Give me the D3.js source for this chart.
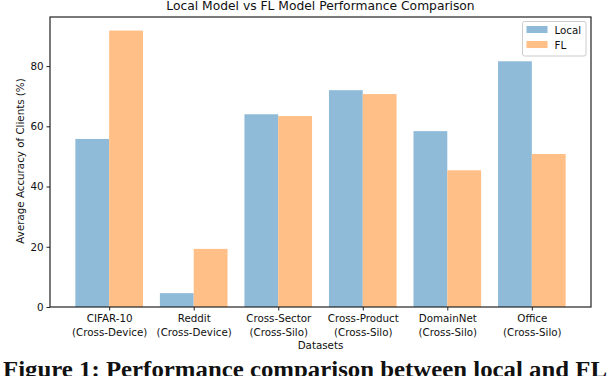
<!DOCTYPE html>
<html lang="en">
<head>
<meta charset="UTF-8">
<title>Local Model vs FL Model Performance Comparison</title>
<script src="https://d3js.org/d3.v7.min.js"></script>
<style>
  body { margin: 0; background: #fff; }
  svg text { font-family: "DejaVu Sans", sans-serif; fill: #111; }
</style>
</head>
<body>
<div id="chart"></div>
<script>
// data
var datasets = ["CIFAR-10", "Reddit", "Cross-Sector", "Cross-Product", "DomainNet", "Office"];
var settings = ["(Cross-Device)", "(Cross-Device)", "(Cross-Silo)", "(Cross-Silo)", "(Cross-Silo)", "(Cross-Silo)"];
var localAcc = [55.8, 4.6, 64.0, 72.0, 58.4, 81.6];
var flAcc = [91.8, 19.3, 63.4, 70.7, 45.4, 50.8];
var seriesNames = ["Local", "FL"];
var yTicks = [0, 20, 40, 60, 80];

var W = 608, H = 376;
var plot = {left: 50, right: 591, top: 17, bottom: 307};
var tickFont = "10.3px";

var svg = d3.select("#chart").append("svg")
    .attr("width", W)
    .attr("height", H);

var x = d3.scaleLinear().domain([-0.7, 5.7]).range([plot.left, plot.right]);
var y = d3.scaleLinear().domain([0, 96.3]).range([plot.bottom, plot.top]);
var barW = x(0.4) - x(0);

var color = d3.scaleOrdinal().domain(seriesNames).range(["#8fbbd9", "#ffbf86"]);

// bars
var rows = datasets.map(function(d, i) { return {i: i, Local: localAcc[i], FL: flAcc[i]}; });
var groups = svg.append("g").selectAll("g")
    .data(rows)
  .enter().append("g");
groups.selectAll("rect")
    .data(function(d) { return seriesNames.map(function(k, j) { return {i: d.i, j: j, key: k, value: d[k]}; }); })
  .enter().append("rect")
    .attr("x", function(d) { return x(d.i - 0.4 + d.j * 0.4); })
    .attr("y", function(d) { return y(d.value); })
    .attr("width", barW)
    .attr("height", function(d) { return y(0) - y(d.value); })
    .attr("fill", function(d) { return color(d.key); });

// y axis
var yAxis = svg.append("g")
    .attr("transform", "translate(" + plot.left + ",0)")
    .call(d3.axisLeft(y).tickValues(yTicks).tickSize(3.5).tickPadding(3));
yAxis.select(".domain").remove();
yAxis.selectAll("text").style("font-size", tickFont).style("font-family", "DejaVu Sans").attr("fill", "#111");
yAxis.selectAll("line").attr("stroke", "#222");

// x axis
var xAxis = svg.append("g")
    .attr("transform", "translate(0," + plot.bottom + ")")
    .call(d3.axisBottom(x).tickValues(d3.range(datasets.length)).tickSize(3.5).tickFormat(""));
xAxis.select(".domain").remove();
xAxis.selectAll("line").attr("stroke", "#222");
xAxis.selectAll(".tick").append("text")
    .attr("y", 14.5)
    .attr("fill", "#111")
    .style("font-size", tickFont)
    .attr("text-anchor", "middle")
    .text(function(d) { return datasets[d]; });
xAxis.selectAll(".tick").append("text")
    .attr("y", 28.5)
    .attr("fill", "#111")
    .style("font-size", tickFont)
    .attr("text-anchor", "middle")
    .text(function(d) { return settings[d]; });

// frame
svg.append("rect")
    .attr("x", plot.left).attr("y", plot.top)
    .attr("width", plot.right - plot.left)
    .attr("height", plot.bottom - plot.top)
    .attr("fill", "none")
    .attr("stroke", "#222")
    .attr("stroke-width", 1.2);

// titles
svg.append("text")
    .attr("x", (plot.left + plot.right) / 2)
    .attr("y", 9.5)
    .attr("text-anchor", "middle")
    .style("font-size", "12.3px")
    .text("Local Model vs FL Model Performance Comparison");

svg.append("text")
    .attr("x", (plot.left + plot.right) / 2)
    .attr("y", 348.5)
    .attr("text-anchor", "middle")
    .style("font-size", tickFont)
    .text("Datasets");

svg.append("text")
    .attr("transform", "translate(24," + ((plot.top + plot.bottom) / 2 - 1) + ") rotate(-90)")
    .attr("text-anchor", "middle")
    .style("font-size", tickFont)
    .text("Average Accuracy of Clients (%)");

// legend
var legend = svg.append("g").attr("transform", "translate(522.5,21.5)");
legend.append("rect")
    .attr("width", 63.5).attr("height", 34.5).attr("rx", 2)
    .attr("fill", "#fff").attr("stroke", "#ccc");
legend.selectAll(".item")
    .data(seriesNames)
  .enter().append("rect")
    .attr("x", 4).attr("y", function(d, i) { return 4.5 + i * 15; })
    .attr("width", 21).attr("height", 7)
    .attr("fill", function(d) { return color(d); });
legend.selectAll(".lab")
    .data(seriesNames)
  .enter().append("text")
    .attr("x", 32).attr("y", function(d, i) { return 12 + i * 15; })
    .style("font-size", tickFont)
    .text(function(d) { return d; });

// caption below the figure, cut off by the bottom edge as in the source
svg.append("text")
    .attr("x", 3)
    .attr("y", 377)
    .style("font-family", "Liberation Serif, serif")
    .style("font-weight", "bold")
    .style("font-size", "24px")
    .attr("fill", "#000")
    .attr("textLength", 604)
    .attr("lengthAdjust", "spacingAndGlyphs")
    .text("Figure 1: Performance comparison between local and FL");
</script>
</body>
</html>
